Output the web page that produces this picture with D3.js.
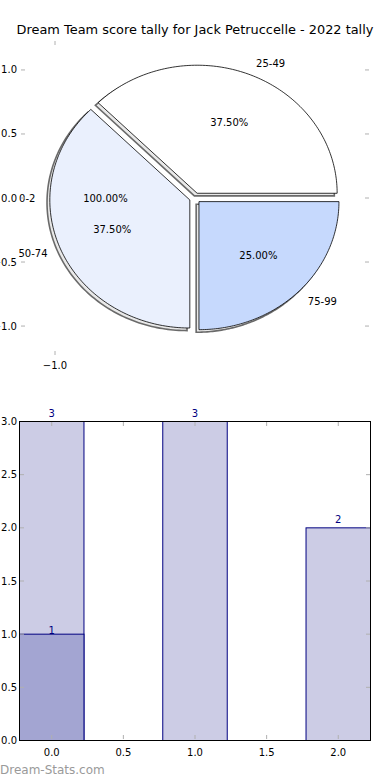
<!DOCTYPE html>
<html>
<head>
<meta charset="utf-8">
<script src="https://cdn.jsdelivr.net/npm/d3@7"></script>
<style>
  body { margin: 0; background: #fff; }
  text { font-family: "DejaVu Sans", sans-serif; }
</style>
</head>
<body>
<script>
// Data
const title = "Dream Team score tally for Jack Petruccelle - 2022 tally";
const sliceLabels = ["25-49", "50-74", "75-99"];
const sliceValues = [3, 3, 2];
const sliceColors = ["#ffffff", "#eaf0fd", "#c6d9fd"];
const emptyLabel = "0-2",
    emptyPct = "100.00%";
const pieYTicks = [-1.0, -0.5, 0.0, 0.5, 1.0];
const pieXTicks = [-1.0];

const barCats = [0, 1, 2];
const barTotals = [3, 3, 2];
const barOverlay = [1, 0, 0];
const barXTicks = [0, 0.5, 1, 1.5, 2];
const barYTicks = [0, 0.5, 1, 1.5, 2, 2.5, 3];

// Consts for the figure
const width = 390,
    height = 780,
    explode = 0.04,
    shadowOff = -0.02,
    tickGray = "#b0b0b0";

const fmt = d3.format(".1f");
const minus = s => s.replace("-", "\u2212");

let svg = d3.select("body").append("svg")
    .attr("width", width)
    .attr("height", height);

svg.append("text")
    .attr("x", 195).attr("y", 34)
    .attr("text-anchor", "middle")
    .attr("font-size", 12.9)
    .text(title);

// ---------- Pie ----------
const px = d3.scaleLinear().domain([-1.25, 1.25]).range([20, 370]);
const py = d3.scaleLinear().domain([-1.23, 1.23]).range([355.5, 40.5]);

const total = d3.sum(sliceValues);
let a0 = 0;
const slices = sliceValues.map((v, i) => {
    const s = {label: sliceLabels[i], value: v, color: sliceColors[i], t1: a0, t2: a0 + v / total * 360};
    a0 = s.t2;
    s.mid = (s.t1 + s.t2) / 2;
    return s;
});

const rad = d => d * Math.PI / 180;
const line = d3.line().x(d => px(d[0])).y(d => py(d[1]));

function wedge(s, ox, oy) {
    const cx = explode * Math.cos(rad(s.mid)) + ox,
        cy = explode * Math.sin(rad(s.mid)) + oy;
    const pts = [[cx, cy]];
    d3.range(0, 121).forEach(k => {
        const t = rad(s.t1 + (s.t2 - s.t1) * k / 120);
        pts.push([cx + Math.cos(t), cy + Math.sin(t)]);
    });
    return line(pts) + "Z";
}

let pie = svg.append("g");

// shadows first, below every wedge
pie.selectAll("path.shadow")
    .data(slices).enter()
    .append("path")
    .attr("class", "shadow")
    .attr("d", d => wedge(d, shadowOff, shadowOff))
    .attr("fill", "#4d4d4d")
    .attr("fill-opacity", 0.12)
    .attr("stroke", "#6a6a6a")
    .attr("stroke-width", 1.6);

pie.selectAll("path.wedge")
    .data(slices).enter()
    .append("path")
    .attr("class", "wedge")
    .attr("d", d => wedge(d, 0, 0))
    .attr("fill", d => d.color)
    .attr("stroke", "#000")
    .attr("stroke-width", 0.8)
    .attr("stroke-linejoin", "miter");

function labelAt(angle, r, txt, anchor) {
    const ex = explode * Math.cos(rad(angle)),
        ey = explode * Math.sin(rad(angle));
    pie.append("text")
        .attr("x", px(ex + r * Math.cos(rad(angle))))
        .attr("y", py(ey + r * Math.sin(rad(angle))))
        .attr("dy", "0.35em")
        .attr("font-size", 10)
        .attr("text-anchor", anchor)
        .text(txt);
}

slices.forEach(s => {
    const right = Math.cos(rad(s.mid)) > 0;
    labelAt(s.mid, 1.1, s.label, right ? "start" : "end");
    labelAt(s.mid, 0.6, (s.value / total * 100).toFixed(2) + "%", "middle");
});
// empty slice sits at the left
labelAt(180, 1.1, emptyLabel, "end");
labelAt(180, 0.6, emptyPct, "middle");

// pie axis ticks (no frame)
pieYTicks.forEach(t => {
    pie.append("line").attr("x1", 21).attr("x2", 25).attr("y1", py(t)).attr("y2", py(t))
        .attr("stroke", tickGray);
    pie.append("line").attr("x1", 365).attr("x2", 369).attr("y1", py(t)).attr("y2", py(t))
        .attr("stroke", tickGray);
    pie.append("text")
        .attr("x", 17).attr("y", py(t)).attr("dy", "0.35em")
        .attr("text-anchor", "end").attr("font-size", 10)
        .text(minus(fmt(t)));
});
pieXTicks.forEach(t => {
    pie.append("line").attr("x1", px(t)).attr("x2", px(t)).attr("y1", 41).attr("y2", 45)
        .attr("stroke", tickGray);
    pie.append("line").attr("x1", px(t)).attr("x2", px(t)).attr("y1", 351).attr("y2", 355)
        .attr("stroke", tickGray);
    pie.append("text")
        .attr("x", px(t)).attr("y", 369)
        .attr("text-anchor", "middle").attr("font-size", 10)
        .text(minus(fmt(t)));
});

// ---------- Bars ----------
const bx = d3.scaleLinear().domain([-0.225, 2.225]).range([19.5, 370.5]);
const by = d3.scaleLinear().domain([0, 3]).range([740.5, 421.5]);
const barW = 0.45;

let bars = svg.append("g");

bars.selectAll("rect.total")
    .data(barCats).enter()
    .append("rect")
    .attr("x", d => bx(d - barW / 2))
    .attr("width", d => bx(d + barW / 2) - bx(d - barW / 2))
    .attr("y", (d, i) => by(barTotals[i]))
    .attr("height", (d, i) => by(0) - by(barTotals[i]))
    .attr("fill", "#cccce5")
    .attr("stroke", "#000080")
    .attr("stroke-width", 1);

bars.selectAll("rect.over")
    .data(barCats.filter((d, i) => barOverlay[i] > 0)).enter()
    .append("rect")
    .attr("x", d => bx(d - barW / 2))
    .attr("width", d => bx(d + barW / 2) - bx(d - barW / 2))
    .attr("y", d => by(barOverlay[d]))
    .attr("height", d => by(0) - by(barOverlay[d]))
    .attr("fill", "#a3a5d2")
    .attr("stroke", "#000080")
    .attr("stroke-width", 1);

bars.selectAll("text.tot")
    .data(barCats).enter()
    .append("text")
    .attr("x", d => bx(d))
    .attr("y", (d, i) => by(barTotals[i]) - 5)
    .attr("text-anchor", "middle")
    .attr("font-size", 10)
    .attr("fill", "#000080")
    .text((d, i) => barTotals[i]);

bars.selectAll("text.ov")
    .data(barCats.filter((d, i) => barOverlay[i] > 0)).enter()
    .append("text")
    .attr("x", d => bx(d))
    .attr("y", d => by(barOverlay[d]) - 0.5)
    .attr("text-anchor", "middle")
    .attr("font-size", 10)
    .attr("fill", "#000080")
    .text(d => barOverlay[d]);

// ticks inside, all four sides
barXTicks.forEach(t => {
    bars.append("line").attr("x1", bx(t)).attr("x2", bx(t)).attr("y1", 422).attr("y2", 426)
        .attr("stroke", tickGray);
    bars.append("line").attr("x1", bx(t)).attr("x2", bx(t)).attr("y1", 735).attr("y2", 739)
        .attr("stroke", tickGray);
    bars.append("text")
        .attr("x", bx(t)).attr("y", 752).attr("dy", "0.35em")
        .attr("text-anchor", "middle").attr("font-size", 10)
        .text(fmt(t));
});
barYTicks.forEach(t => {
    bars.append("line").attr("x1", 20).attr("x2", 24).attr("y1", by(t)).attr("y2", by(t))
        .attr("stroke", tickGray);
    bars.append("line").attr("x1", 366).attr("x2", 370).attr("y1", by(t)).attr("y2", by(t))
        .attr("stroke", tickGray);
    bars.append("text")
        .attr("x", 17).attr("y", by(t)).attr("dy", "0.35em")
        .attr("text-anchor", "end").attr("font-size", 10)
        .text(fmt(t));
});

// frame
bars.append("rect")
    .attr("x", bx(-0.225)).attr("y", by(3))
    .attr("width", bx(2.225) - bx(-0.225))
    .attr("height", by(0) - by(3))
    .attr("fill", "none")
    .attr("stroke", "#000")
    .attr("stroke-width", 1);

svg.append("text")
    .attr("x", 0).attr("y", 774)
    .attr("font-size", 12)
    .attr("fill", "#9a9a9a")
    .text("Dream-Stats.com");
</script>
</body>
</html>
